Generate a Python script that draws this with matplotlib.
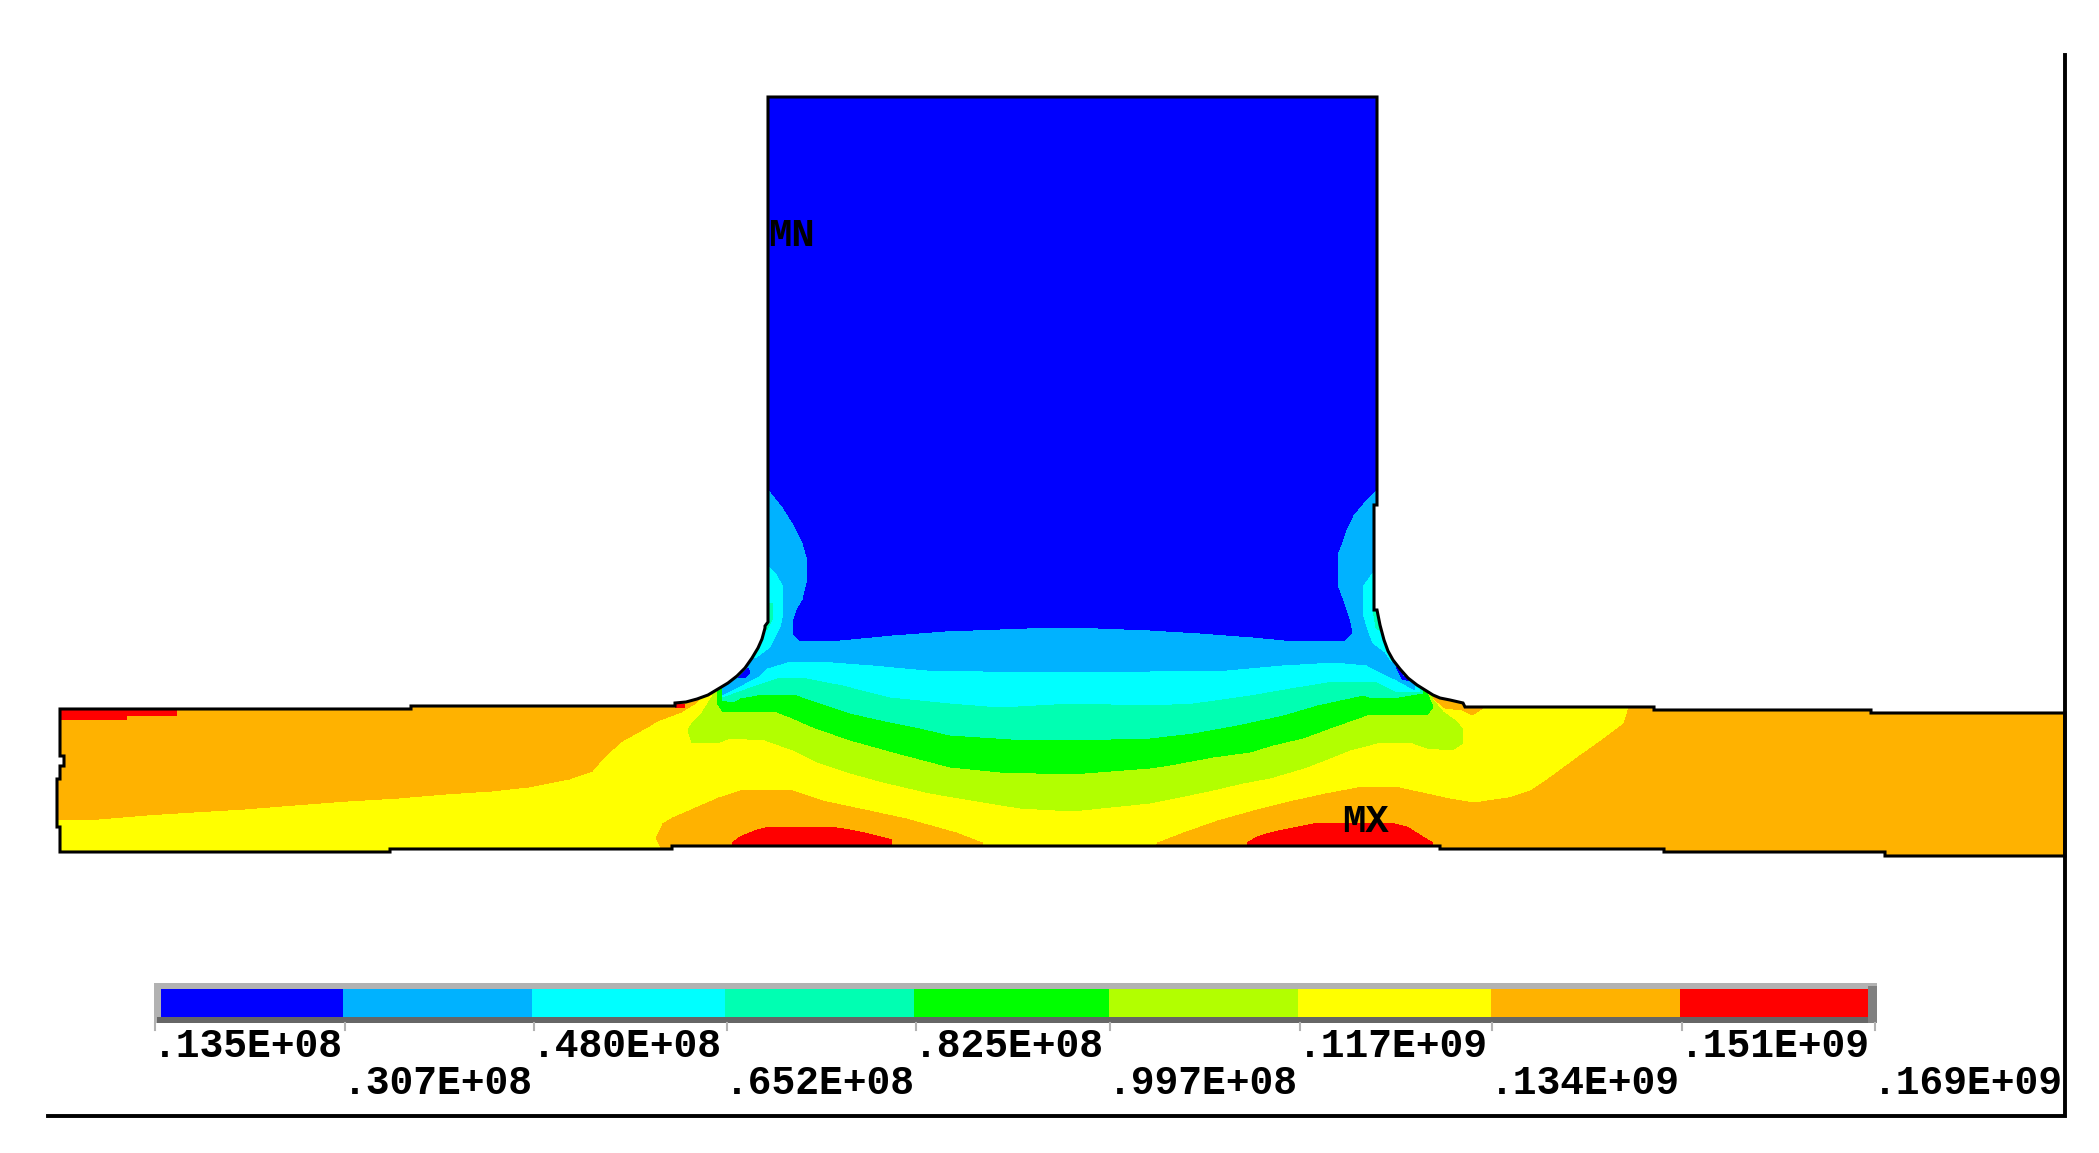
import matplotlib
matplotlib.use("Agg")
import matplotlib.pyplot as plt
from matplotlib.patches import Polygon, Rectangle

# ── Contour levels / legend ───────────────────────────────
LEVEL_COLORS = ["#0000FF", "#00B2FF", "#00FFFF", "#00FFB2", "#00FF00",
                "#B2FF00", "#FFFF00", "#FFB200", "#FF0000"]
LEVEL_LABELS = [".135E+08", ".307E+08", ".480E+08", ".652E+08", ".825E+08",
                ".997E+08", ".117E+09", ".134E+09", ".151E+09", ".169E+09"]
bar_edges = [161, 343, 532, 725, 914, 1109, 1298, 1491, 1680, 1868]
bar_ticks = [155, 345, 534, 727, 916, 1110, 1300, 1492, 1682, 1875]

# ── Geometry in pixels ────────────────────────────────────
outline = [(768, 97), (1377, 97), (1377, 505), (1374, 505), (1374, 610), (1377, 610),
           (1380, 625), (1384, 640), (1388, 651), (1393, 660), (1400, 669), (1408, 678),
           (1417, 685), (1425, 690), (1433, 695), (1440, 698), (1450, 700), (1463, 703),
           (1465, 707), (1654, 707),
           (1654, 710), (1871, 710), (1871, 713), (2065, 713), (2065, 856), (1885, 856),
           (1885, 852), (1664, 852), (1664, 849), (1440, 849), (1440, 846), (672, 846),
           (672, 849), (390, 849), (390, 852), (60, 852), (60, 827), (57, 827), (57, 779),
           (60, 779), (60, 766), (64, 766), (64, 756), (60, 756), (60, 709), (411, 709),
           (411, 706), (675, 706), (675, 703), (686, 702), (697, 699), (708, 695), (718, 689),
           (728, 683), (737, 676), (745, 668), (752, 658), (758, 648), (762, 639), (765, 628),
           (765, 626), (768, 622)]

yellow_zone = [(50, 820), (99, 820), (147, 816), (194, 813), (245, 810), (295, 806), (348, 802),
               (399, 799), (446, 795), (492, 792), (529, 788), (570, 780), (593, 772),
               (606, 757), (623, 742), (650, 727), (658, 722), (682, 713), (695, 705),
               (705, 695), (1440, 695), (1490, 700), (1630, 700), (1623, 723), (1603, 738),
               (1579, 755), (1549, 777), (1530, 790), (1508, 797), (1487, 800), (1475, 802),
               (1450, 798), (1423, 792), (1400, 787), (1357, 787), (1325, 793), (1293, 800),
               (1253, 810), (1217, 820), (1183, 832), (1157, 842), (1150, 850), (983, 850),
               (983, 842), (957, 832), (907, 818), (870, 810), (823, 800), (793, 790),
               (740, 790), (718, 797), (695, 807), (672, 817), (662, 823), (655, 838),
               (660, 849), (660, 860), (50, 860)]
orange_patch = [(1433, 698), (1445, 697), (1483, 704), (1483, 708), (1472, 715), (1462, 710), (1445, 708)]

yg_lower = [(712, 697), (702, 713), (693, 722), (688, 730), (692, 743), (717, 743), (730, 738),
            (765, 740), (793, 750), (817, 762), (847, 772), (883, 782), (930, 793), (983, 802),
            (1020, 808), (1072, 811), (1150, 803), (1180, 797), (1213, 790), (1243, 783),
            (1270, 778), (1307, 767), (1350, 750), (1377, 743), (1413, 743), (1427, 748),
            (1452, 750), (1463, 743), (1463, 730), (1457, 722), (1443, 712), (1433, 700)]
green_lower = [(717, 703), (723, 712), (777, 712), (790, 717), (813, 727), (850, 740), (897, 753),
               (950, 767), (1000, 772), (1072, 774), (1150, 768), (1170, 765), (1213, 757),
               (1250, 752), (1273, 745), (1303, 738), (1330, 728), (1367, 715), (1427, 715),
               (1433, 707), (1427, 693)]
teal_lower = [(722, 700), (733, 702), (740, 698), (757, 695), (797, 695), (820, 703), (850, 713),
              (890, 722), (920, 728), (950, 735), (980, 737), (1027, 740), (1072, 740),
              (1150, 738), (1193, 733), (1237, 725), (1283, 715), (1317, 705), (1363, 695),
              (1373, 698), (1393, 698), (1423, 693)]
cyan_lower = [(722, 697), (747, 688), (777, 678), (807, 678), (843, 685), (890, 697), (950, 703),
              (1000, 707), (1072, 703), (1150, 705), (1193, 703), (1250, 695), (1290, 688),
              (1327, 682), (1377, 682), (1397, 692), (1420, 692)]
ltblue_lower = [(722, 695), (747, 682), (760, 675), (767, 668), (787, 662), (833, 662), (873, 665),
                (927, 670), (983, 671), (1043, 672), (1150, 671), (1227, 670), (1282, 665),
                (1335, 662), (1367, 665), (1380, 672), (1397, 680), (1415, 690)]
blue_zone = [(768, 97), (1377, 97), (1377, 488), (1363, 503), (1353, 515), (1346, 530), (1342, 542),
             (1338, 552), (1338, 588), (1345, 607), (1350, 623), (1352, 633), (1345, 640),
             (1295, 641), (1253, 637), (1200, 633), (1150, 630), (1072, 627), (1027, 628),
             (945, 631), (892, 635), (840, 640), (800, 641), (793, 633), (793, 623), (797, 610),
             (803, 600), (807, 583), (807, 557), (803, 543), (793, 523), (783, 507), (768, 488)]

strip_left = [(768, 567), (775, 573), (783, 587), (783, 613), (780, 627), (770, 647), (755, 658),
              (740, 650), (760, 600)]
strip_right = [(1373, 573), (1363, 587), (1363, 613), (1368, 630), (1373, 643), (1385, 652),
               (1392, 662), (1405, 650), (1385, 580)]
teal_left = [(770, 603), (773, 603), (773, 617), (767, 630), (760, 630), (765, 603)]
teal_right = [(1373, 610), (1380, 610), (1382, 632), (1376, 628)]
blue_dot_left = [(738, 678), (748, 668), (750, 673), (745, 678)]
blue_dot_right = [(1396, 667), (1400, 667), (1403, 676), (1410, 681), (1402, 679)]

red_top_left = [(55, 710), (177, 710), (177, 716), (127, 716), (127, 720), (55, 720)]
red_fillet = [(675, 704), (685, 704), (685, 708), (675, 708)]
red_bottom_left = [(732, 843), (740, 837), (757, 830), (770, 827), (830, 827), (850, 830),
                   (865, 833), (892, 840), (892, 850), (732, 850)]
red_bottom_right = [(1247, 843), (1257, 837), (1270, 833), (1283, 830), (1298, 827), (1318, 823),
                    (1390, 823), (1407, 827), (1423, 837), (1433, 843), (1433, 850), (1247, 850)]

# ── Canvas in picture pixels ──────────────────────────────
W, H = 2099, 1153
fig = plt.figure(figsize=(W / 100, H / 100), dpi=100)
ax = fig.add_axes([0, 0, 1, 1])
ax.set_xlim(0, W)
ax.set_ylim(H, 0)
ax.axis("off")

clip_shape = Polygon(outline, closed=True, transform=ax.transData)


def band(points, color):
    patch = Polygon(points, closed=True, facecolor=color, edgecolor="none", antialiased=False)
    ax.add_patch(patch)
    patch.set_clip_path(clip_shape)


def upper_band(lower, color):
    # everything above a contour line, up to the top of the stem
    band(lower + [(lower[-1][0], 90), (lower[0][0], 90)], color)


blue, ltblue, cyan, teal, green, yg, yellow, orange, red = LEVEL_COLORS

# ── Contour bands, painted from the plate upwards ─────────
band(outline, orange)
band(yellow_zone, yellow)
band(orange_patch, orange)
upper_band(yg_lower, yg)
upper_band(green_lower, green)
upper_band(teal_lower, teal)
upper_band(cyan_lower, cyan)
upper_band(ltblue_lower, ltblue)
band(blue_zone, blue)
band(strip_left, cyan)
band(strip_right, cyan)
band(teal_left, teal)
band(teal_right, teal)
band(blue_dot_left, blue)
band(blue_dot_right, blue)
band(red_top_left, red)
band(red_fillet, red)
band(red_bottom_left, red)
band(red_bottom_right, red)

# ── Outline and frame ─────────────────────────────────────
ax.add_patch(Polygon(outline, closed=True, fill=False, edgecolor="black", linewidth=2.2,
                     joinstyle="miter"))
ax.plot([2065, 2065, 48], [55, 1116, 1116], color="black", lw=2.8, solid_joinstyle="miter")

# ── Legend bar ────────────────────────────────────────────
bar_top, bar_bottom = 989, 1017
ax.add_patch(Rectangle((154, 983), 1723, 40, facecolor="#B2B2B2", edgecolor="none"))
ax.add_patch(Rectangle((157, bar_bottom), 1720, 6, facecolor="#666666", edgecolor="none"))
ax.add_patch(Rectangle((1868, 986), 9, 37, facecolor="#808080", edgecolor="none"))
for left, right, color in zip(bar_edges[:-1], bar_edges[1:], LEVEL_COLORS):
    ax.add_patch(Rectangle((left, bar_top), right - left, bar_bottom - bar_top,
                           facecolor=color, edgecolor="none", antialiased=False))

for i, (tick, label) in enumerate(zip(bar_ticks, LEVEL_LABELS)):
    ax.plot([tick, tick], [1023, 1030], color="#B2B2B2", lw=1.5)
    row_y = 1057 if i % 2 == 0 else 1094
    ax.text(tick - 2, row_y, label, family="Liberation Mono", fontsize=28.5,
            ha="left", va="baseline", color="black", fontweight="bold")

ax.text(792, 236, "MN", family="Liberation Mono", fontweight="bold", fontsize=28,
        ha="center", va="center", color="black")
ax.text(1366, 822, "MX", family="Liberation Mono", fontweight="bold", fontsize=28,
        ha="center", va="center", color="black")

fig.savefig("out.png", dpi=100, facecolor="white")
